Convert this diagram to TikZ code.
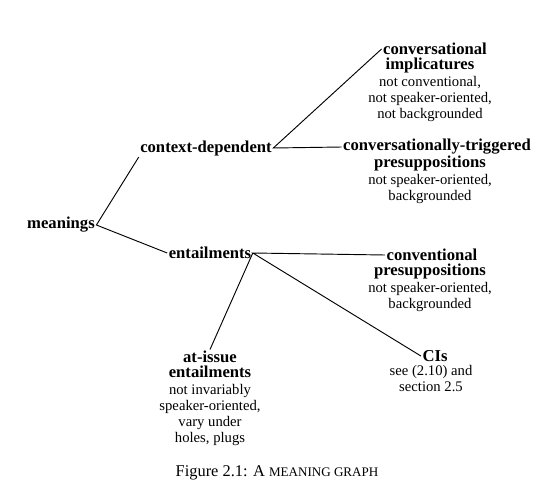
\documentclass[tikz,border=0pt]{standalone}
\usepackage{fontspec}
\setmainfont{Liberation Serif}
\begin{document}
\begin{tikzpicture}[x=0.75pt,y=-0.75pt,
  lbl/.style={font=\fontsize{12.5}{12.5}\selectfont\bfseries, inner sep=1pt},
  desc/.style={font=\fontsize{11}{12.2}\selectfont, align=center, inner sep=0pt},
  edge/.style={line width=0.7pt}]
\useasboundingbox (0,0) rectangle (539,496);
% nodes
\node[lbl] (mean) at (61,225) {meanings};
\node[lbl] (cd) at (206,148) {context-dependent};
\node[lbl] (ent) at (210,253) {entailments};
\node[lbl] (ci) at (435,49) {conversational};
\node[desc, anchor=north] (cidesc) at (430,58) {\textbf{\fontsize{12.5}{12.2}\selectfont implicatures}\\not conventional,\\not speaker-oriented,\\not backgrounded};
\node[lbl] (ct) at (437,147) {conversationally-triggered};
\node[desc, anchor=north] (ctdesc) at (430,156) {\textbf{\fontsize{12.5}{12.2}\selectfont presuppositions}\\not speaker-oriented,\\backgrounded};
\node[lbl] (cp) at (432,255) {conventional};
\node[desc, anchor=north] (cpdesc) at (430,264) {\textbf{\fontsize{12.5}{12.2}\selectfont presuppositions}\\not speaker-oriented,\\backgrounded};
\node[lbl] (cis) at (435,356) {CIs};
\node[desc, anchor=north] (cisdesc) at (431,365) {see (2.10) and\\section 2.5};
\node[lbl] (ai) at (210,357) {at-issue};
\node[desc, anchor=north] (aidesc) at (210,366) {\textbf{\fontsize{12.5}{12.2}\selectfont entailments}\\not invariably\\speaker-oriented,\\vary under\\holes, plugs};
\node[font=\fontsize{12.3}{12}\selectfont, inner sep=0pt] (cap) at (277,473) {Figure 2.1: A {\fontsize{9.8}{12}\selectfont MEANING GRAPH}};
% connectors
\draw[edge] (cd.south west) -- (mean.east) -- (ent.west);
\draw[edge] (ci.west) -- (cd.east) -- (ct.west);
\draw[edge] (cp.west) -- (ent.east) -- (cis.west);
\draw[edge] (ent.east) -- (ai.north);
\end{tikzpicture}
\end{document}
